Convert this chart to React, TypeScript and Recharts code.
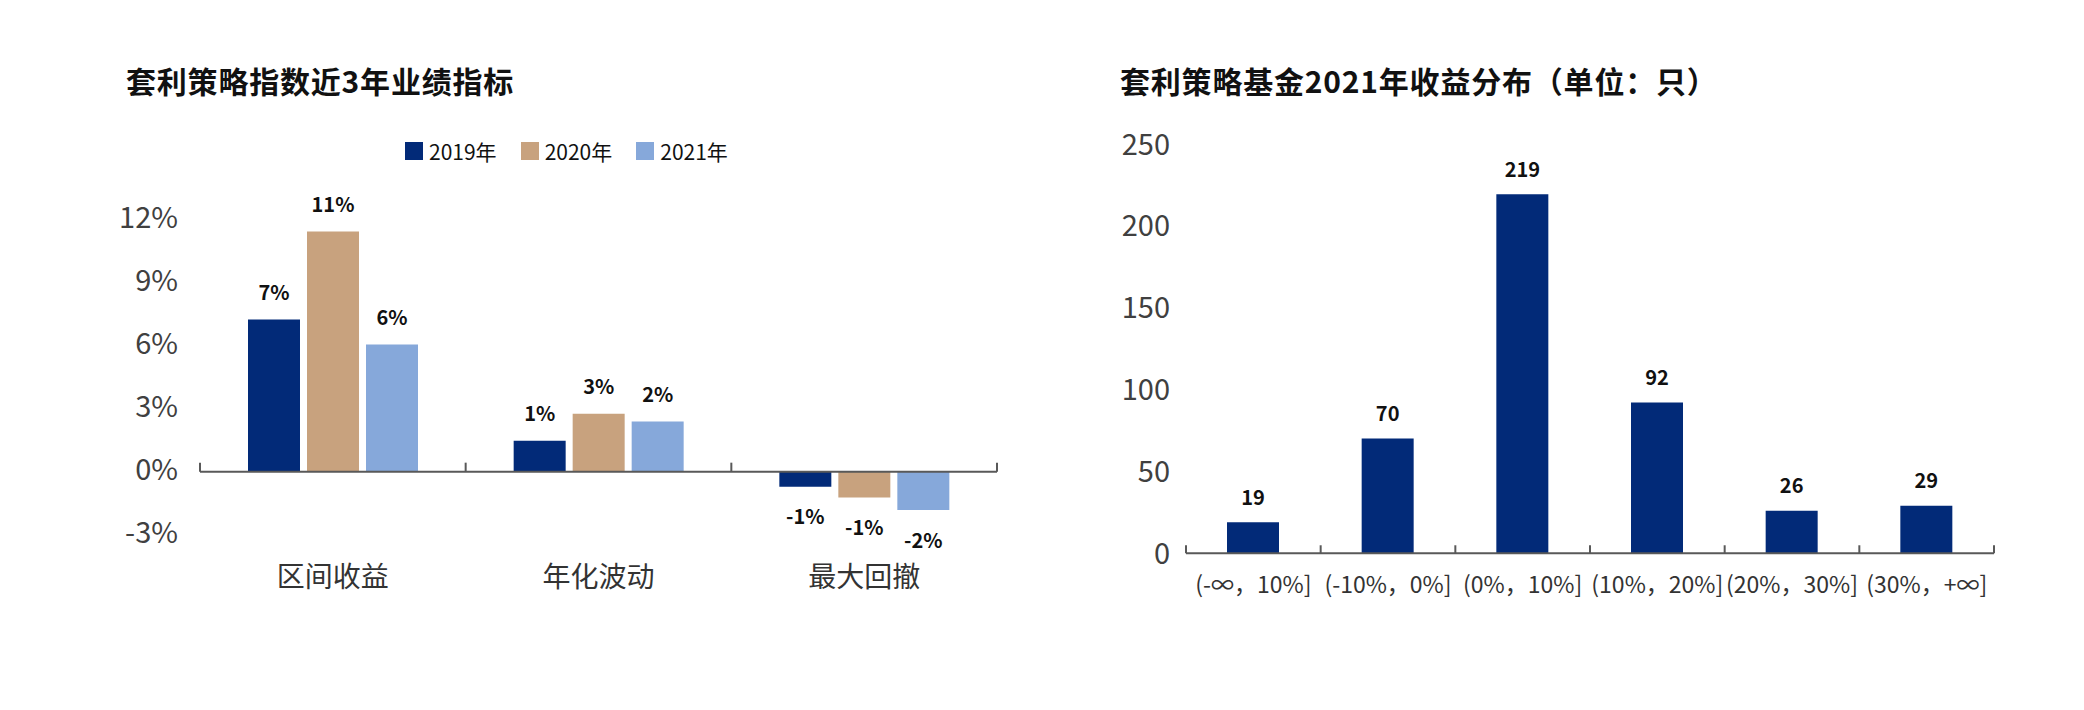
import { BarChart, Bar, XAxis, YAxis, ReferenceLine, LabelList } from 'recharts'

const FONT = '"Noto Sans CJK SC", "Noto Sans", sans-serif'

// left: index metrics over 3 years (%)
const metricCategories = ['区间收益', '年化波动', '最大回撤']
const metricYears = ['2019年', '2020年', '2021年']
const metric2019 = [7.26, 1.48, -0.72]
const metric2020 = [11.45, 2.76, -1.23]
const metric2021 = [6.06, 2.39, -1.83]
const metricTicks = [-3, 0, 3, 6, 9, 12]

// right: fund return distribution 2021 (count)
const bucketLabels = ['(-∞，10%]', '(-10%，0%]', '(0%，10%]', '(10%，20%]', '(20%，30%]', '(30%，+∞]']
const bucketCounts = [19, 70, 219, 92, 26, 29]
const bucketTicks = [0, 50, 100, 150, 200, 250]

const yearColors = ['#022a78', '#c8a27e', '#86a8da']
const axisColor = '#595959'

const metricData = metricCategories.map((name, i) => ({
  name,
  y2019: metric2019[i],
  y2020: metric2020[i],
  y2021: metric2021[i],
}))
const yearKeys = ['y2019', 'y2020', 'y2021']

const bucketData = bucketLabels.map((name, i) => ({ name, count: bucketCounts[i] }))

// tick marks sit on the borders between categories, not at their centres
function edgeMarks(cats: string[], len: number) {
  const marks = cats.map(c => ({ c, pos: 'start' as const }))
  marks.push({ c: cats[cats.length - 1], pos: 'end' as any })
  return marks.map((m, i) => (
    <ReferenceLine key={i} position={m.pos} segment={[{ x: m.c, y: 0 }, { x: m.c, y: len }]}
      stroke={axisColor} strokeWidth={2} />
  ))
}

function barLabel(fmt: (v: number) => string, gapUp: number, gapDown: number) {
  return (props: any) => {
    const { x, y, width, height, value } = props
    const v = Number(value)
    const top = Math.min(y, y + height)
    const bottom = Math.max(y, y + height)
    const ty = v >= 0 ? top - gapUp : bottom + gapDown
    return (
      <text x={x + width / 2} y={ty} textAnchor="middle" dominantBaseline="central"
        fontSize={20} fontWeight={700} fill="#111" fontFamily={FONT}>
        {fmt(v)}
      </text>
    )
  }
}

function yTick(suffix: string, dy: number) {
  return (p: any) => (
    <text x={p.x} y={p.y} dy={dy} textAnchor="end" dominantBaseline="central"
      fontSize={29} fill="#404040" fontFamily={FONT}>
      {p.payload.value}{suffix}
    </text>
  )
}

function xTick(size: number) {
  return (p: any) => (
    <text x={p.x} y={p.y} textAnchor="middle" dominantBaseline="central"
      fontSize={size} fill="#333" fontFamily={FONT}>
      {p.payload.value}
    </text>
  )
}

const titleStyle = {
  position: 'absolute' as const,
  top: 64,
  fontSize: 30,
  lineHeight: '32px',
  fontWeight: 700,
  color: '#111',
  fontFamily: FONT,
  letterSpacing: 0.8,
  whiteSpace: 'nowrap' as const,
}

export default function App() {
  const pctFmt = (v: number) => `${Math.round(v)}%`
  return (
    <div style={{ position: 'absolute', left: 0, top: 0, width: 2084, height: 710, background: '#fff' }}>
      <div style={{ ...titleStyle, left: 126 }}>套利策略指数近3年业绩指标</div>
      <div style={{ ...titleStyle, left: 1120 }}>套利策略基金2021年收益分布（单位：只）</div>

      <div style={{ position: 'absolute', left: 405, top: 137, display: 'flex', alignItems: 'center', fontFamily: FONT, fontSize: 21, color: '#111', zIndex: 2 }}>
        {metricYears.map((y, i) => (
          <div key={y} style={{ display: 'flex', alignItems: 'center', marginRight: 24 }}>
            <span style={{ width: 18, height: 18, background: yearColors[i], display: 'inline-block', marginRight: 6 }} />
            <span style={{ lineHeight: '28px' }}>{y}</span>
          </div>
        ))}
      </div>

      <div style={{ position: 'absolute', left: 0, top: 0 }}>
        <BarChart width={1040} height={710} data={metricData}
          margin={{ top: 220, right: 43, bottom: 115.4, left: 0 }}
          barSize={52} barGap={7}>
          <XAxis dataKey="name" height={60} axisLine={false} tickLine={false} tickSize={0} tickMargin={40} tick={xTick(28)} interval={0} />
          <YAxis type="number" domain={[-3, 12]} ticks={metricTicks} width={200} axisLine={false} tickLine={false} tickSize={0} tickMargin={22} tick={yTick('%', -5)} interval={0} />
          {yearKeys.map((k, i) => (
            <Bar key={k} dataKey={k} name={metricYears[i]} fill={yearColors[i]} isAnimationActive={false}>
              <LabelList dataKey={k} content={barLabel(pctFmt, 28, 29)} />
            </Bar>
          ))}
          <ReferenceLine y={0} stroke={axisColor} strokeWidth={2} />
          {edgeMarks(metricCategories, 0.43)}
        </BarChart>
      </div>

      <div style={{ position: 'absolute', left: 1040, top: 0 }}>
        <BarChart width={1044} height={710} data={bucketData}
          margin={{ top: 143.5, right: 90, bottom: 96.7, left: 0 }}
          barSize={52}>
          <XAxis dataKey="name" height={60} axisLine={false} tickLine={false} tickSize={0} tickMargin={30} tick={xTick(23)} interval={0} />
          <YAxis type="number" domain={[0, 250]} ticks={bucketTicks} width={146} axisLine={false} tickLine={false} tickSize={0} tickMargin={16} tick={yTick('', -2)} interval={0} />
          <Bar dataKey="count" fill={yearColors[0]} isAnimationActive={false}>
            <LabelList dataKey="count" content={barLabel(v => String(v), 26, 26)} />
          </Bar>
          <ReferenceLine y={0} stroke={axisColor} strokeWidth={2} />
          {edgeMarks(bucketLabels, 4.9)}
        </BarChart>
      </div>
    </div>
  )
}
